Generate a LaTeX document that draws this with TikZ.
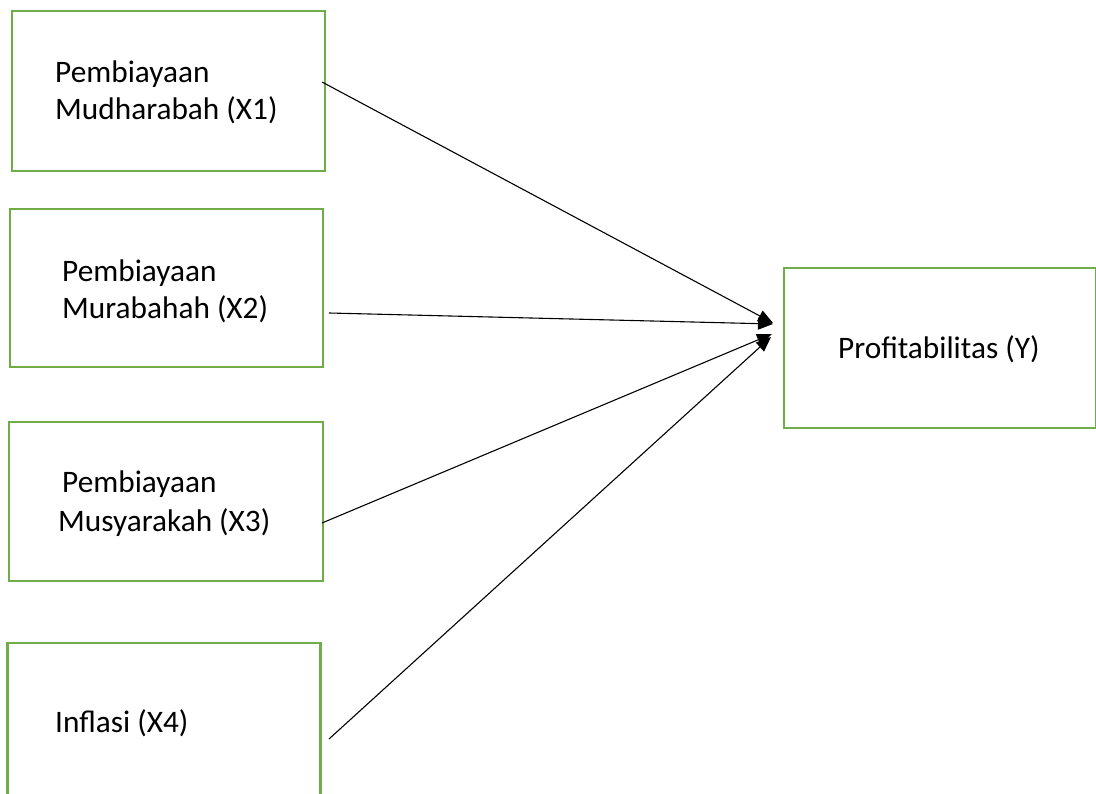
\documentclass[tikz,border=0pt]{standalone}
\usepackage{fontspec}
\setmainfont{Carlito}
\usetikzlibrary{arrows.meta}
\definecolor{boxgreen}{RGB}{112,173,71}
\begin{document}
\begin{tikzpicture}[x=1pt,y=-1pt,
  box/.style={draw=boxgreen,line width=2.6pt,rectangle,inner sep=0pt},
  lbl/.style={anchor=base west,inner sep=0pt,font=\fontsize{31.3}{37}\selectfont},
  conn/.style={line width=1.1pt,-{Triangle[length=15pt,width=12pt]}}]
\useasboundingbox (0,0) rectangle (1096,794);
\clip (0,0) rectangle (1096,794);
% boxes
\node[box,minimum width=313pt,minimum height=160pt] (b1) at (168.5,91) {};
\node[box,minimum width=313pt,minimum height=158pt] (b2) at (166.5,288) {};
\node[box,minimum width=314pt,minimum height=159pt] (b3) at (166,501.5) {};
\node[box,minimum width=313pt,minimum height=180pt] (b4) at (164,733) {};
\node[box,minimum width=312pt,minimum height=160pt] (by) at (940,348) {};
% texts
\node[lbl] (t1a) at (55,83) {Pembiayaan};
\node[lbl] (t1b) at (55,120) {Mudharabah (X1)};
\node[lbl] (t2a) at (62,282) {Pembiayaan};
\node[lbl] (t2b) at (62,319) {Murabahah (X2)};
\node[lbl] (t3a) at (62,493) {Pembiayaan};
\node[lbl] (t3b) at (58,531) {Musyarakah (X3)};
\node[lbl] (t4) at (55,732) {Inflasi (X4)};
\node[lbl] (ty) at (838,359) {Profitabilitas (Y)};
% connector ends
\coordinate (s1) at (322,82);
\coordinate (s2) at (329,313);
\coordinate (s3) at (322,523);
\coordinate (s4) at (329,739);
\coordinate (e1) at (773,323);
\coordinate (e2) at (773,324);
\coordinate (e3) at (772,334);
\coordinate (e4) at (771,337);
\draw[conn] (s1) -- (e1);
\draw[conn] (s2) -- (e2);
\draw[conn] (s3) -- (e3);
\draw[conn] (s4) -- (e4);
\end{tikzpicture}
\end{document}
